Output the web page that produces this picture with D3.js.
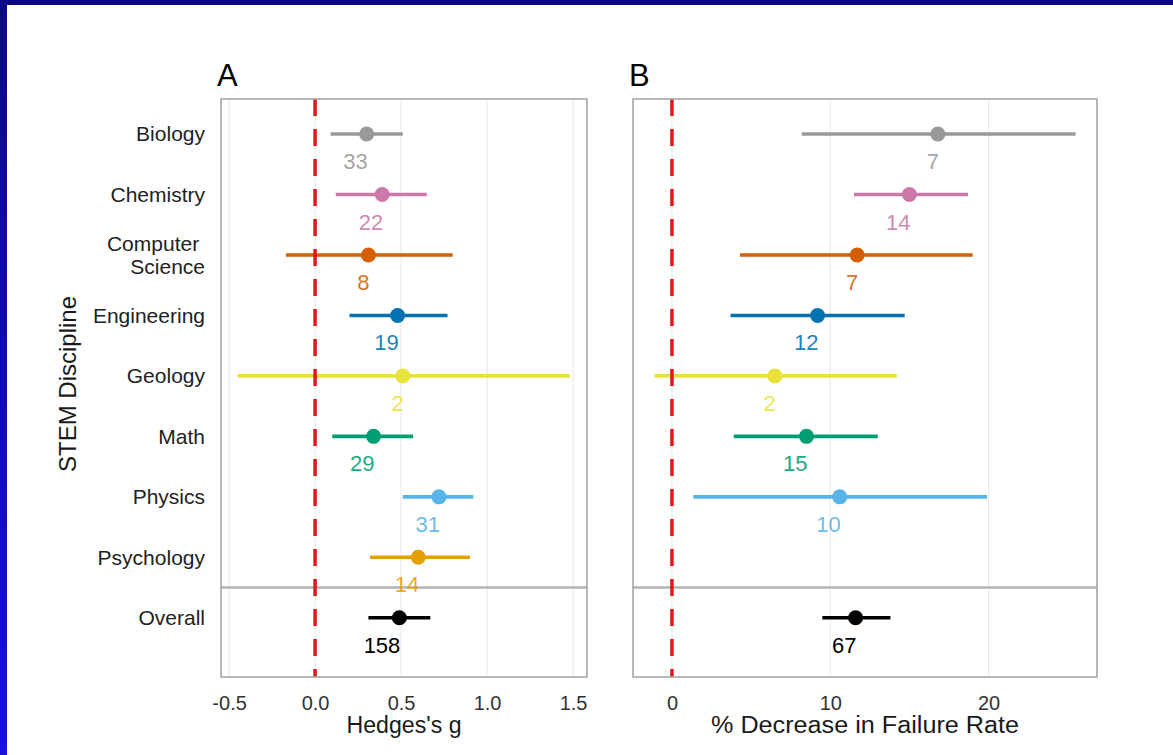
<!DOCTYPE html>
<html>
<head>
<meta charset="utf-8">
<script src="https://cdn.jsdelivr.net/npm/d3@7"></script>
<style>
  html, body { margin: 0; padding: 0; background: #ffffff; }
  svg { display: block; }
  text { font-family: "Liberation Sans", Arial, Helvetica, sans-serif; }
</style>
</head>
<body>
<svg id="chart" width="1173" height="755"></svg>
<script>
// ---------- data ----------
const categories = ["Biology", "Chemistry", "Computer Science", "Engineering", "Geology", "Math", "Physics", "Psychology", "Overall"];
const categoryLines = [["Biology"], ["Chemistry"], ["Computer\u00A0", "Science"], ["Engineering"], ["Geology"], ["Math"], ["Physics"], ["Psychology"], ["Overall"]];
const colors = ["#999999", "#CC79A7", "#D55E00", "#0072B2", "#E8E23A", "#009E73", "#56B4E9", "#E69F00", "#000000"];

// Panel A: Hedges's g
const gEst = [0.30, 0.39, 0.31, 0.48, 0.51, 0.34, 0.72, 0.60, 0.49];
const gLo  = [0.09, 0.12, -0.17, 0.20, -0.45, 0.10, 0.51, 0.32, 0.31];
const gHi  = [0.51, 0.65, 0.80, 0.77, 1.48, 0.57, 0.92, 0.90, 0.67];
const gN   = [33, 22, 8, 19, 2, 29, 31, 14, 158];

// Panel B: % decrease in failure rate (no Psychology studies)
const fEst = [16.8, 15.0, 11.7, 9.2, 6.5, 8.5, 10.6, null, 11.6];
const fLo  = [8.2, 11.5, 4.3, 3.7, -1.1, 3.9, 1.35, null, 9.5];
const fHi  = [25.5, 18.7, 19.0, 14.7, 14.2, 13.0, 19.9, null, 13.8];
const fN   = [7, 14, 7, 12, 2, 15, 10, null, 67];

const gTicks = [-0.5, 0.0, 0.5, 1.0, 1.5];
const gTickLabels = ["-0.5", "0.0", "0.5", "1.0", "1.5"];
const fTicks = [0, 10, 20];
const fTickLabels = ["0", "10", "20"];

// ---------- layout ----------
const svg = d3.select("#chart");

// blue frame
const defs = svg.append("defs");
const grad = defs.append("linearGradient").attr("id", "leftGrad")
  .attr("x1", 0).attr("y1", 0).attr("x2", 0).attr("y2", 1);
grad.append("stop").attr("offset", "0%").attr("stop-color", "#0c0884");
grad.append("stop").attr("offset", "100%").attr("stop-color", "#1a0fe0");
svg.append("rect").attr("x", 0).attr("y", 0).attr("width", 7).attr("height", 755).attr("fill", "url(#leftGrad)");
svg.append("rect").attr("x", 0).attr("y", 0).attr("width", 1173).attr("height", 5).attr("fill", "#0c0884");

const yTop = 99, yBottom = 677;
const y = d3.scaleLinear().domain([-0.58, 8.98]).range([yTop, yBottom]);

function drawPanel(opts) {
  const { left, right, domain, est, lo, hi, n, ticks, tickLabels, title, titleLen, letter } = opts;
  const x = d3.scaleLinear().domain(domain).range([left, right]);
  const g = svg.append("g");

  // grid
  g.selectAll("line.grid").data(ticks).join("line")
    .attr("class", "grid")
    .attr("x1", d => x(d)).attr("x2", d => x(d))
    .attr("y1", yTop).attr("y2", yBottom)
    .attr("stroke", "#ebebeb").attr("stroke-width", 1.2);

  // separator between disciplines and overall
  g.append("line")
    .attr("x1", left).attr("x2", right)
    .attr("y1", y(7.5)).attr("y2", y(7.5))
    .attr("stroke", "#b3b3b3").attr("stroke-width", 2.5);

  const idx = d3.range(categories.length).filter(i => est[i] !== null);

  // error bars
  g.selectAll("line.ci").data(idx).join("line")
    .attr("class", "ci")
    .attr("x1", i => x(lo[i])).attr("x2", i => x(hi[i]))
    .attr("y1", i => y(i)).attr("y2", i => y(i))
    .attr("stroke", i => colors[i]).attr("stroke-width", 3.6);

  // zero reference line
  g.append("line")
    .attr("x1", x(0)).attr("x2", x(0))
    .attr("y1", yTop).attr("y2", yBottom)
    .attr("stroke", "#e8141c").attr("stroke-width", 3.5)
    .attr("stroke-dasharray", "17,13");

  // points
  g.selectAll("circle.pt").data(idx).join("circle")
    .attr("class", "pt")
    .attr("cx", i => x(est[i])).attr("cy", i => y(i))
    .attr("r", 7.5)
    .attr("fill", i => colors[i]);

  // n labels
  g.selectAll("text.n").data(idx).join("text")
    .attr("class", "n")
    .attr("x", i => x(est[i]) + 1).attr("y", i => y(i) + 35)
    .attr("text-anchor", "end")
    .attr("font-size", 22)
    .attr("fill", i => colors[i])
    .attr("fill-opacity", i => i === 8 ? 1 : 0.9)
    .text(i => n[i]);

  // border
  g.append("rect")
    .attr("x", left).attr("y", yTop)
    .attr("width", right - left).attr("height", yBottom - yTop)
    .attr("fill", "none").attr("stroke", "#a6a6a6").attr("stroke-width", 1.6);

  // x axis
  const axis = d3.axisBottom(x)
    .tickValues(ticks)
    .tickFormat((d, i) => tickLabels[i])
    .tickSize(0).tickSizeOuter(0).tickPadding(19);
  const ax = svg.append("g").attr("transform", `translate(0,${yBottom})`).call(axis);
  ax.select(".domain").remove();
  ax.selectAll("text")
    .attr("font-size", 20)
    .attr("fill", "#333333")
    .style("font-family", '"Liberation Sans", Arial, sans-serif');

  // axis title
  svg.append("text")
    .attr("x", (left + right) / 2).attr("y", 733)
    .attr("text-anchor", "middle")
    .attr("font-size", 23)
    .attr("fill", "#1a1a1a")
    .attr("textLength", titleLen)
    .attr("lengthAdjust", "spacingAndGlyphs")
    .text(title);

  // panel letter
  svg.append("text")
    .attr("x", left - 4).attr("y", 86)
    .attr("font-size", 31)
    .attr("fill", "#000")
    .text(letter);
}

drawPanel({
  left: 221, right: 587, domain: [-0.547, 1.581],
  est: gEst, lo: gLo, hi: gHi, n: gN,
  ticks: gTicks, tickLabels: gTickLabels,
  title: "Hedges's g", titleLen: 115, letter: "A"
});

drawPanel({
  left: 633, right: 1097, domain: [-2.46, 26.85],
  est: fEst, lo: fLo, hi: fHi, n: fN,
  ticks: fTicks, tickLabels: fTickLabels,
  title: "% Decrease in Failure Rate", titleLen: 308, letter: "B"
});

// category labels
const catG = svg.append("g");
categoryLines.forEach((lines, i) => {
  const t = catG.append("text")
    .attr("x", 205)
    .attr("y", y(i))
    .attr("text-anchor", "end")
    .attr("font-size", 21)
    .attr("fill", "#222222");
  const lh = 23;
  const startDy = -(lines.length - 1) * lh / 2;
  lines.forEach((ln, k) => {
    t.append("tspan")
      .attr("x", 205)
      .attr("y", y(i) + startDy + k * lh)
      .attr("dy", "0.35em")
      .style("white-space", "pre")
      .text(ln);
  });
});

// y axis title
svg.append("text")
  .attr("transform", `translate(76,${(yTop + yBottom) / 2 - 4}) rotate(-90)`)
  .attr("text-anchor", "middle")
  .attr("font-size", 24)
  .attr("fill", "#1a1a1a")
  .text("STEM Discipline");
</script>
</body>
</html>
